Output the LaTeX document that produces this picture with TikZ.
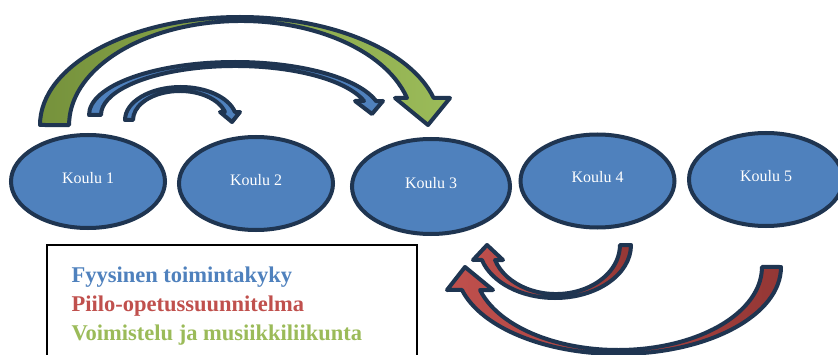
\documentclass[tikz,border=0pt]{standalone}
\usepackage{fontspec}
\setmainfont{Liberation Serif}
\usetikzlibrary{shapes.geometric}

\definecolor{koulublue}{HTML}{4F81BD}
\definecolor{rim}{HTML}{1F3551}
\definecolor{greendark}{HTML}{76923C}
\definecolor{greenlight}{HTML}{9BBB59}
\definecolor{redlight}{HTML}{C0504D}
\definecolor{reddark}{HTML}{943735}

\tikzset{
  koulu/.style={ellipse, draw=rim, line width=4pt, fill=koulublue,
    minimum width=154pt, minimum height=93pt, inner sep=0pt,
    text=white, font=\fontsize{16}{19}\selectfont, text depth=8pt},
  kaari/.style={draw=rim, line width=4pt, line join=round},
  selite/.style={anchor=base west, font=\fontsize{22.5}{26}\selectfont\bfseries}
}

\begin{document}
\begin{tikzpicture}[x=1pt, y=1pt]

\useasboundingbox[fill=white] (0,0) rectangle (838,354);

% arrows over the top
\draw[kaari, left color=greendark, right color=greenlight] (40,229)
  arc[start angle=180, end angle=14.5, x radius=200, y radius=108]
  -- (450,256) -- (428,229) -- (395,256) -- (407,256)
  arc[start angle=15.05, end angle=180, x radius=171.9, y radius=104]
  -- cycle;

\draw[kaari, fill=koulublue] (89,239)
  arc[start angle=180, end angle=15.3, x radius=146.1, y radius=53]
  -- (383,253) -- (372,240) -- (355,253) -- (364,253)
  arc[start angle=16.6, end angle=180, x radius=134.3, y radius=49]
  -- cycle;

\draw[kaari, fill=koulublue] (125,234)
  arc[start angle=180, end angle=14.0, x radius=55.8, y radius=33]
  -- (240,242) -- (232,232) -- (220,242) -- (225,242)
  arc[start angle=16.0, end angle=180, x radius=46.9, y radius=29]
  -- cycle;

% arrows underneath
\draw[kaari, left color=redlight, right color=reddark] (631,109)
  arc[start angle=0, end angle=-163.6, x radius=76.1, y radius=53]
  -- (473,94) -- (487,109) -- (503,94) -- (495,94)
  arc[start angle=-162.2, end angle=0, x radius=64, y radius=49]
  -- cycle;

\draw[kaari, left color=redlight, right color=reddark] (781,87)
  arc[start angle=0, end angle=-164.7, x radius=162.4, y radius=87]
  -- (447,64) -- (465,87) -- (493,64) -- (480,64)
  arc[start angle=-163.9, end angle=0, x radius=143.8, y radius=83]
  -- cycle;

% schools
\node[koulu] (k1) at (88,172.5) {Koulu 1};
\node[koulu] (k2) at (256,170.5) {Koulu 2};
\node[koulu, minimum width=158pt, minimum height=95pt] (k3) at (431,167.5) {Koulu 3};
\node[koulu] (k4) at (597.5,173) {Koulu 4};
\node[koulu] (k5) at (766,174.5) {Koulu 5};

% legend
\draw[black, line width=1.5pt] (47,-10) rectangle (417,109);
\node[selite, text=koulublue] (leg1) at (68,72) {Fyysinen toimintakyky};
\node[selite, text=redlight] (leg2) at (68,43) {Piilo-opetussuunnitelma};
\node[selite, text=greenlight] (leg3) at (68,14) {Voimistelu ja musiikkiliikunta};

\end{tikzpicture}
\end{document}
